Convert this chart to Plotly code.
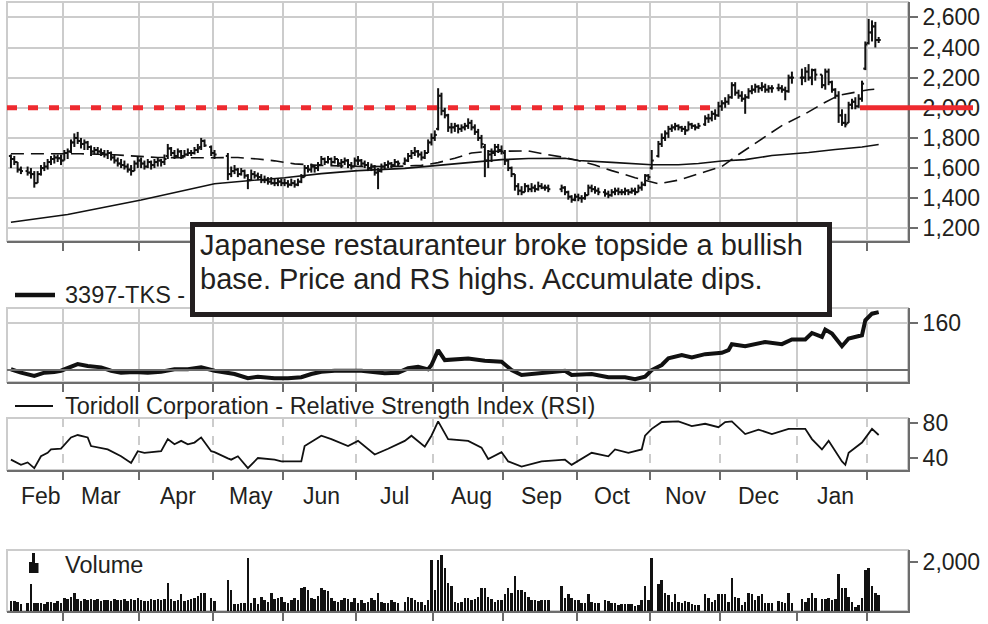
import numpy as np
import plotly.graph_objects as go

W, H = 988, 624
FONT = "Liberation Sans, Arial, sans-serif"
TXT = "#231f20"
GRID = "#cccccc"
AXC = "#6d6d6d"

# ---------------- data ----------------
holidays = ["2015-02-11", "2015-04-29", "2015-05-04", "2015-05-05", "2015-05-06",
            "2015-07-20", "2015-09-21", "2015-09-22", "2015-09-23", "2015-10-12",
            "2015-11-03", "2015-11-23", "2015-12-23", "2015-12-31", "2016-01-01",
            "2016-01-11"]
first_day, last_day = "2015-02-05", "2016-02-04"

opens = [
    1680, 1660, 1640, 1590, 1580, 1570, 1560, 1500, 1560, 1600, 1610, 1640, 1660, 1670, 1665, 1650,
    1700, 1710, 1770, 1800, 1780, 1760, 1770, 1740, 1710, 1720, 1710, 1700, 1690, 1700, 1670, 1650, 1630, 1620, 1610, 1590, 1580, 1630,
    1650, 1630, 1610, 1640, 1620, 1640, 1650, 1640, 1680, 1730, 1700, 1680, 1710, 1680, 1690, 1700, 1700, 1720, 1740, 1780, 1740,
    1700, 1680, 1560, 1580, 1590, 1560, 1580, 1550, 1520, 1560, 1550, 1540, 1520, 1520, 1510, 1500, 1500, 1510,
    1500, 1500, 1490, 1500, 1490, 1510, 1540, 1600, 1590, 1610, 1600, 1620, 1660, 1640, 1660, 1640, 1660, 1630, 1640, 1650, 1620, 1610,
    1650, 1650, 1630, 1620, 1600, 1610, 1570, 1580, 1610, 1620, 1630, 1620, 1640, 1630, 1650, 1680, 1700, 1710, 1690, 1670, 1700, 1770,
    1800, 1860, 2080, 1980, 1950, 1870, 1870, 1880, 1860, 1870, 1880, 1900, 1870, 1840, 1800, 1740, 1650, 1690, 1700, 1740, 1720,
    1700, 1650, 1600, 1560, 1480, 1450, 1440, 1480, 1460, 1470, 1460, 1480, 1470, 1470, 1460, 1470, 1440, 1410, 1390,
    1410, 1400, 1400, 1420, 1470, 1460, 1450, 1440, 1430, 1420, 1440, 1450, 1440, 1440, 1450, 1440, 1450, 1440, 1470, 1490, 1550,
    1600, 1680, 1760, 1800, 1830, 1860, 1870, 1880, 1870, 1860, 1850, 1890, 1880, 1870, 1890, 1930, 1930, 1960, 1950,
    2010, 2030, 2040, 2070, 2150, 2100, 2080, 2060, 2070, 2110, 2120, 2140, 2130, 2140, 2120, 2130, 2130, 2130, 2120, 2110, 2200,
    2200, 2200, 2240, 2200, 2250, 2220, 2150, 2240, 2170, 2120, 2080, 1950, 1900, 1900, 2020, 2040, 2010, 2060, 2260,
    2430, 2500, 2540, 2450]
highs = [
    1690, 1680, 1640, 1610, 1610, 1600, 1580, 1580, 1620, 1640, 1660, 1680, 1690, 1690, 1690, 1720,
    1730, 1790, 1830, 1840, 1800, 1790, 1780, 1750, 1740, 1740, 1730, 1720, 1720, 1710, 1690, 1670, 1660, 1650, 1630, 1620, 1650, 1680,
    1670, 1650, 1660, 1650, 1660, 1670, 1660, 1690, 1760, 1740, 1720, 1730, 1720, 1720, 1730, 1720, 1740, 1760, 1800, 1790, 1750,
    1720, 1700, 1610, 1620, 1600, 1600, 1590, 1560, 1590, 1580, 1570, 1560, 1550, 1540, 1540, 1530, 1530, 1530,
    1530, 1520, 1530, 1520, 1530, 1560, 1620, 1620, 1630, 1620, 1640, 1680, 1670, 1680, 1670, 1680, 1660, 1660, 1670, 1660, 1640, 1670,
    1680, 1660, 1650, 1640, 1630, 1620, 1600, 1630, 1640, 1650, 1640, 1660, 1650, 1670, 1700, 1720, 1740, 1720, 1710, 1720, 1790, 1830,
    1850, 2130, 2100, 2000, 1960, 1900, 1900, 1890, 1890, 1900, 1930, 1920, 1890, 1860, 1820, 1760, 1720, 1730, 1760, 1760, 1750,
    1720, 1660, 1610, 1560, 1500, 1480, 1500, 1490, 1500, 1490, 1510, 1500, 1490, 1490, 1490, 1480, 1450, 1420, 1430,
    1430, 1420, 1440, 1490, 1490, 1480, 1470, 1460, 1450, 1460, 1470, 1470, 1460, 1470, 1460, 1470, 1470, 1490, 1510, 1560, 1560,
    1720, 1780, 1830, 1850, 1880, 1890, 1900, 1890, 1880, 1880, 1910, 1900, 1890, 1900, 1950, 1960, 1980, 1990, 2040,
    2050, 2070, 2090, 2170, 2170, 2120, 2110, 2090, 2130, 2150, 2160, 2150, 2170, 2160, 2150, 2150, 2160, 2150, 2140, 2220, 2240,
    2260, 2270, 2290, 2260, 2260, 2220, 2260, 2260, 2180, 2130, 2110, 1990, 1960, 2040, 2060, 2070, 2090, 2180, 2440,
    2590, 2580, 2570, 2470]
lows = [
    1600, 1620, 1570, 1560, 1550, 1530, 1470, 1500, 1550, 1580, 1590, 1620, 1630, 1640, 1620, 1650,
    1660, 1700, 1740, 1760, 1730, 1720, 1720, 1680, 1690, 1690, 1680, 1670, 1660, 1650, 1630, 1610, 1600, 1590, 1570, 1550, 1580, 1600,
    1600, 1590, 1600, 1590, 1600, 1610, 1610, 1620, 1660, 1680, 1660, 1670, 1660, 1670, 1680, 1680, 1690, 1700, 1720, 1740, 1680,
    1660, 1520, 1540, 1560, 1540, 1550, 1530, 1460, 1520, 1530, 1520, 1500, 1500, 1490, 1490, 1480, 1480, 1480,
    1480, 1470, 1480, 1470, 1480, 1500, 1540, 1570, 1570, 1570, 1580, 1620, 1620, 1630, 1620, 1630, 1610, 1600, 1620, 1600, 1590, 1610,
    1620, 1610, 1600, 1580, 1580, 1550, 1460, 1570, 1590, 1600, 1600, 1610, 1610, 1620, 1640, 1660, 1680, 1670, 1650, 1660, 1700, 1750,
    1780, 1850, 1950, 1930, 1840, 1830, 1840, 1830, 1840, 1850, 1860, 1850, 1820, 1780, 1730, 1540, 1600, 1640, 1680, 1700, 1690,
    1620, 1580, 1540, 1450, 1420, 1420, 1440, 1440, 1440, 1440, 1450, 1460, 1450, 1440, 1440, 1420, 1390, 1370, 1380,
    1380, 1370, 1390, 1420, 1440, 1430, 1420, 1410, 1400, 1410, 1420, 1420, 1420, 1420, 1420, 1430, 1420, 1440, 1450, 1480, 1520,
    1590, 1670, 1740, 1780, 1800, 1840, 1850, 1850, 1840, 1820, 1850, 1860, 1850, 1860, 1880, 1900, 1910, 1920, 1940,
    1980, 2000, 2020, 2060, 2080, 2060, 2040, 1960, 2060, 2090, 2100, 2100, 2110, 2100, 2100, 2100, 2110, 2100, 2050, 2100, 2160,
    2150, 2170, 2180, 2150, 2180, 2130, 2120, 2150, 2100, 2060, 1900, 1880, 1870, 1900, 1990, 1990, 2000, 2040, 2250,
    2420, 2440, 2400, 2430]
closes = [
    1660, 1640, 1590, 1580, 1570, 1560, 1500, 1560, 1600, 1610, 1640, 1660, 1670, 1665, 1650, 1700,
    1710, 1770, 1800, 1780, 1760, 1770, 1740, 1710, 1720, 1710, 1700, 1690, 1700, 1670, 1650, 1630, 1620, 1610, 1590, 1580, 1630, 1650,
    1630, 1610, 1640, 1620, 1640, 1650, 1640, 1660, 1730, 1700, 1680, 1710, 1680, 1690, 1700, 1700, 1720, 1730, 1780, 1750, 1700,
    1690, 1560, 1580, 1590, 1560, 1580, 1550, 1520, 1560, 1550, 1540, 1520, 1520, 1510, 1500, 1500, 1510, 1500,
    1500, 1490, 1500, 1490, 1510, 1540, 1600, 1590, 1610, 1600, 1620, 1660, 1640, 1660, 1640, 1660, 1630, 1640, 1650, 1620, 1610, 1650,
    1650, 1630, 1620, 1600, 1610, 1570, 1580, 1610, 1620, 1630, 1620, 1640, 1630, 1650, 1680, 1700, 1710, 1690, 1670, 1700, 1770, 1800,
    1820, 2080, 1980, 1950, 1870, 1870, 1880, 1860, 1870, 1880, 1900, 1870, 1840, 1800, 1760, 1650, 1690, 1700, 1740, 1720, 1710,
    1650, 1600, 1560, 1480, 1450, 1440, 1480, 1460, 1470, 1460, 1480, 1470, 1470, 1460, 1470, 1440, 1410, 1390, 1410,
    1400, 1400, 1420, 1470, 1460, 1450, 1440, 1430, 1420, 1440, 1450, 1440, 1440, 1450, 1440, 1450, 1440, 1470, 1490, 1550, 1540,
    1650, 1760, 1800, 1830, 1860, 1870, 1880, 1870, 1860, 1850, 1890, 1880, 1870, 1880, 1930, 1930, 1960, 1950, 2010,
    2030, 2040, 2070, 2150, 2100, 2080, 2060, 2070, 2110, 2120, 2140, 2130, 2140, 2120, 2130, 2130, 2130, 2120, 2110, 2200, 2200,
    2200, 2240, 2200, 2250, 2220, 2150, 2240, 2170, 2120, 2080, 1950, 1900, 1890, 2020, 2040, 2010, 2060, 2160, 2420,
    2500, 2540, 2450, 2450]
volumes = [
    408, 408, 380, 286, 313, 1088, 313, 313, 340, 272, 380, 380, 313, 408, 340, 517,
    476, 585, 748, 476, 420, 480, 450, 470, 430, 480, 420, 450, 440, 400, 480, 430, 450, 470, 400, 480, 430, 520,
    450, 420, 400, 480, 430, 500, 450, 480, 1156, 500, 420, 450, 680, 400, 450, 480, 520, 600, 748, 720, 540,
    400, 1238, 857, 300, 300, 320, 340, 2149, 313, 517, 272, 585, 449, 380, 720, 476, 517, 585,
    380, 313, 449, 517, 449, 925, 990, 860, 545, 480, 600, 925, 860, 830, 545, 408, 380, 449, 545, 476, 380, 517,
    340, 449, 313, 380, 517, 449, 748, 380, 340, 313, 449, 380, 313, 380, 585, 517, 449, 380, 380, 245, 450, 2054,
    857, 2080, 2285, 1741, 1156, 1000, 380, 340, 353, 517, 517, 449, 476, 585, 925, 925, 585, 476, 380, 449, 449,
    694, 925, 720, 1428, 857, 857, 789, 585, 449, 449, 420, 449, 449, 449, 1020, 517, 694, 517, 449,
    449, 313, 313, 694, 380, 340, 313, 449, 408, 313, 340, 245, 286, 286, 286, 272, 204, 245, 449, 1020, 449,
    2149, 1088, 1265, 720, 653, 380, 694, 380, 340, 408, 380, 272, 245, 245, 680, 517, 380, 449, 680,
    680, 680, 380, 1333, 585, 517, 245, 380, 748, 694, 449, 612, 694, 313, 313, 313, 408, 380, 340, 748, 313,
    503, 380, 517, 748, 517, 476, 476, 517, 449, 476, 1496, 925, 925, 585, 380, 177, 245, 517, 1673,
    1741, 1020, 748, 650]

ma200_dates = ["2015-02-05", "2015-03-02", "2015-04-01", "2015-05-01", "2015-05-15", "2015-06-01",
               "2015-06-16", "2015-07-01", "2015-07-21", "2015-07-31", "2015-08-17", "2015-08-31",
               "2015-09-10", "2015-09-25", "2015-10-01", "2015-10-15", "2015-10-26", "2015-11-02",
               "2015-11-12", "2015-11-20", "2015-12-01", "2015-12-10", "2015-12-22", "2016-01-06",
               "2016-01-18", "2016-01-28", "2016-02-04"]
ma200_vals = [1240, 1292, 1388, 1496, 1516, 1536, 1563, 1583, 1598, 1616, 1636, 1656,
              1663, 1665, 1650, 1638, 1630, 1622, 1622, 1630, 1647, 1656, 1683, 1703,
              1723, 1740, 1756]

ma50_dates = ["2015-02-05", "2015-02-20", "2015-03-06", "2015-03-20", "2015-03-30", "2015-04-08",
              "2015-04-24", "2015-05-12", "2015-05-20", "2015-05-27", "2015-06-04", "2015-06-15",
              "2015-06-30", "2015-07-15", "2015-07-28", "2015-08-04", "2015-08-11", "2015-08-18",
              "2015-08-25", "2015-09-04", "2015-09-10", "2015-09-16", "2015-09-25", "2015-10-01",
              "2015-10-08", "2015-10-15", "2015-10-26", "2015-11-04", "2015-11-12", "2015-11-24",
              "2015-12-01", "2015-12-08", "2015-12-17", "2015-12-25", "2016-01-05", "2016-01-13",
              "2016-01-19", "2016-02-01", "2016-02-04"]
ma50_vals = [1695, 1695, 1695, 1688, 1680, 1670, 1668, 1670, 1660, 1648, 1628, 1618,
             1612, 1610, 1618, 1636, 1665, 1700, 1711, 1716, 1714, 1696, 1670, 1650,
             1620, 1583, 1536, 1496, 1520, 1575, 1610, 1690, 1794, 1882, 1960, 2037,
             2082, 2120, 2125]

rs_dates = ["2015-02-05", "2015-02-10", "2015-02-16", "2015-02-19", "2015-02-24", "2015-02-26",
            "2015-03-05", "2015-03-10", "2015-03-16", "2015-03-19", "2015-03-24", "2015-03-30",
            "2015-04-03", "2015-04-09", "2015-04-15", "2015-04-21", "2015-04-27", "2015-05-01",
            "2015-05-11", "2015-05-15", "2015-05-20", "2015-05-27", "2015-06-02", "2015-06-08",
            "2015-06-11", "2015-06-16", "2015-06-22", "2015-06-26", "2015-07-02", "2015-07-13",
            "2015-07-17", "2015-07-22", "2015-07-27", "2015-07-30", "2015-07-31", "2015-08-04",
            "2015-08-06", "2015-08-17", "2015-08-24", "2015-08-31", "2015-09-03", "2015-09-08",
            "2015-09-17", "2015-09-25", "2015-09-29", "2015-10-07", "2015-10-14", "2015-10-21",
            "2015-10-26", "2015-10-29", "2015-11-02", "2015-11-05", "2015-11-09", "2015-11-13",
            "2015-11-18", "2015-11-24", "2015-12-01", "2015-12-03", "2015-12-04", "2015-12-10",
            "2015-12-18", "2015-12-25", "2015-12-30", "2016-01-05", "2016-01-07", "2016-01-12",
            "2016-01-13", "2016-01-15", "2016-01-20", "2016-01-22", "2016-01-28", "2016-01-29",
            "2016-02-02", "2016-02-04"]
rs_vals = [101, 96.6, 92.3, 96.6, 97.4, 99.1, 107.7, 105.1, 103.4, 99.1, 96.6, 97.4,
           96.6, 97.8, 100.9, 100.9, 103.4, 99.1, 94.9, 89.4, 91.4, 89.4, 89.4, 90.7,
           94.9, 97.8, 99.1, 99.1, 99.1, 95.8, 96.6, 102.2, 104.2, 100.9, 106.4, 125.5,
           112.8, 114.9, 111.9, 110.6, 100, 93.6, 96.6, 99.1, 93.6, 94.9, 90.7, 90.7,
           88.1, 91.4, 100, 106.4, 114.9, 119.1, 116.2, 120.4, 122.1, 125.5, 133.2, 130.6,
           136.1, 133.2, 139.2, 139.2, 147.6, 142.5, 152, 146.9, 130.6, 140.5, 144.7, 163.8,
           172.4, 174.4]

rsi_dates = ["2015-02-05", "2015-02-10", "2015-02-12", "2015-02-16", "2015-02-18", "2015-02-20",
             "2015-02-23", "2015-02-26", "2015-03-03", "2015-03-05", "2015-03-10", "2015-03-11",
             "2015-03-18", "2015-03-24", "2015-03-27", "2015-03-31", "2015-04-02", "2015-04-09",
             "2015-04-13", "2015-04-15", "2015-04-17", "2015-04-21", "2015-04-23", "2015-04-27",
             "2015-04-30", "2015-05-01", "2015-05-07", "2015-05-08", "2015-05-12", "2015-05-15",
             "2015-05-20", "2015-05-27", "2015-05-29", "2015-06-04", "2015-06-08", "2015-06-09",
             "2015-06-16", "2015-06-19", "2015-06-26", "2015-07-01", "2015-07-08", "2015-07-14",
             "2015-07-21", "2015-07-23", "2015-07-29", "2015-07-31", "2015-08-04", "2015-08-07",
             "2015-08-17", "2015-08-21", "2015-08-25", "2015-08-31", "2015-09-02", "2015-09-08",
             "2015-09-16", "2015-09-25", "2015-09-29", "2015-10-07", "2015-10-14", "2015-10-16",
             "2015-10-22", "2015-10-28", "2015-10-29", "2015-11-02", "2015-11-05", "2015-11-12",
             "2015-11-18", "2015-11-24", "2015-11-30", "2015-12-02", "2015-12-04", "2015-12-10",
             "2015-12-16", "2015-12-22", "2015-12-29", "2016-01-05", "2016-01-07", "2016-01-12",
             "2016-01-14", "2016-01-20", "2016-01-21", "2016-01-22", "2016-01-28", "2016-02-02",
             "2016-02-04"]
rsi_vals = [38.5, 32.7, 35.4, 29, 42.3, 46.2, 50, 50.8, 63.5, 66.2, 63.5, 53.8,
            50, 42.3, 34.7, 48, 46.2, 48, 61.6, 55.8, 59.6, 55.8, 57.7, 63.5,
            48, 46.9, 40, 38.5, 42.3, 29, 40.4, 38.5, 36.5, 36.5, 36.5, 53.8,
            65.4, 61.6, 53.8, 59.6, 44.3, 50.8, 59.6, 65.4, 53.1, 65.4, 81.5, 61.6,
            59.6, 52, 39.3, 47, 36.5, 30.8, 36.5, 38.5, 32.7, 46.2, 42.3, 50,
            46.2, 50, 65.4, 73.1, 80.8, 81.5, 76.2, 78.8, 75, 80.8, 81.5, 67.3,
            72.3, 67.3, 73.1, 73.1, 61.6, 50, 59.6, 36.5, 32.7, 46.2, 57.7, 73.1,
            66.2]

month_starts = ["2015-03-01", "2015-04-01", "2015-05-01", "2015-06-01", "2015-07-01", "2015-08-01",
                "2015-09-01", "2015-10-01", "2015-11-01", "2015-12-01", "2016-01-01", "2016-02-01"]
month_labels = ["Feb", "Mar", "Apr", "May", "Jun", "Jul", "Aug", "Sep", "Oct", "Nov", "Dec", "Jan"]
month_label_dates = ["2015-02-18", "2015-03-16", "2015-04-16", "2015-05-18", "2015-06-16", "2015-07-16",
                     "2015-08-18", "2015-09-16", "2015-10-15", "2015-11-16", "2015-12-16", "2016-01-18"]

price_ticks = [1200, 1400, 1600, 1800, 2000, 2200, 2400, 2600]
rs_ticks = [160]
rsi_ticks = [40, 80]
vol_ticks = [2000]
breakout_level = 2000
breakout_end = "2015-11-26"
rs_base = 100

note_lines = ["Japanese restauranteur broke topside a bullish",
              "base. Price and RS highs. Accumulate dips."]
ma_titles = ["200 Day Moving Average", "50 Day Moving Average"]

# ---------------- x positions: weekday slots ----------------
ORIGIN = "2015-03-02"


def slot(d):
    return float(np.busday_count(ORIGIN, d)) + 0.5


def edge(d):
    return float(np.busday_count(ORIGIN, d))


all_days = np.arange(np.datetime64(first_day), np.datetime64(last_day) + 1)
trade_days = [str(d) for d in all_days if np.is_busday(d, holidays=holidays)]
assert len(trade_days) == len(opens) == len(highs) == len(lows) == len(closes) == len(volumes), \
    (len(trade_days), len(opens), len(highs), len(lows), len(closes), len(volumes))
assert len(rs_dates) == len(rs_vals) and len(rsi_dates) == len(rsi_vals)
assert len(ma50_dates) == len(ma50_vals) and len(ma200_dates) == len(ma200_vals)

xt = [slot(d) for d in trade_days]
PX_PER_SLOT = 801 / 240.0
XMIN = (7 - 66) / PX_PER_SLOT
XMAX = (908 - 66) / PX_PER_SLOT

# OHLC as line segments
ox, oy = [], []
TK = 0.62
for x, o, h, l, c in zip(xt, opens, highs, lows, closes):
    ox += [x, x, None, x - TK, x, None, x, x + TK, None]
    oy += [l, h, None, o, o, None, c, c, None]


def py(p):
    return 1 - p / H


def pxx(p):
    return p / W


XD = [pxx(7), pxx(908)]
D_PRICE = [py(241), py(2)]
D_RS = [py(382), py(308)]
D_RSI = [py(470), py(418)]
D_VOL = [py(611), py(550)]

fig = go.Figure()
# red breakout level (dashed), below the price bars
fig.add_trace(go.Scatter(x=[XMIN, slot(breakout_end)], y=[breakout_level, breakout_level], mode="lines",
                         line=dict(color="#ee2a2f", width=5, dash="10px,11px"), xaxis="x", yaxis="y",
                         hoverinfo="skip"))
fig.add_trace(go.Scatter(x=[slot(d) for d in ma200_dates], y=ma200_vals, mode="lines",
                         line=dict(color="#111111", width=1.6), xaxis="x", yaxis="y", hoverinfo="skip"))
fig.add_trace(go.Scatter(x=[slot(d) for d in ma50_dates], y=ma50_vals, mode="lines",
                         line=dict(color="#111111", width=1.6, dash="13px,7px"), xaxis="x", yaxis="y",
                         hoverinfo="skip"))
fig.add_trace(go.Scatter(x=ox, y=oy, mode="lines", line=dict(color="#111111", width=2),
                         xaxis="x", yaxis="y", connectgaps=False, hoverinfo="skip"))
fig.add_trace(go.Scatter(x=[slot(d) for d in rs_dates], y=rs_vals, mode="lines",
                         line=dict(color="#111111", width=4), xaxis="x2", yaxis="y2"))
fig.add_trace(go.Scatter(x=[slot(d) for d in rsi_dates], y=rsi_vals, mode="lines",
                         line=dict(color="#111111", width=1.8), xaxis="x3", yaxis="y3"))
fig.add_trace(go.Bar(x=xt, y=volumes, width=0.75, marker=dict(color="#111111", line=dict(width=0)),
                     xaxis="x4", yaxis="y4"))

tickv = [edge(d) for d in month_starts]


def xax(anchor, grid, dash="solid"):
    return dict(domain=XD, anchor=anchor, range=[XMIN, XMAX], tickmode="array", tickvals=tickv,
                showticklabels=False, ticks="outside", ticklen=8, tickwidth=2, tickcolor=AXC,
                showgrid=grid, gridcolor=GRID, gridwidth=2, griddash=dash, showline=True,
                linecolor=AXC, linewidth=2, zeroline=False, fixedrange=True, automargin=False)


def yax(anchor, dom, rng, vals, grid):
    return dict(domain=dom, anchor=anchor, side="right", range=rng, tickmode="array", tickvals=vals,
                ticktext=[f"{v:,}" for v in vals], ticks="outside", ticklen=8, tickwidth=2,
                tickcolor=AXC, showgrid=grid, gridcolor=GRID, gridwidth=2, showline=True,
                linecolor=AXC, linewidth=2, zeroline=False, automargin=False,
                tickfont=dict(family=FONT, size=23, color=TXT), fixedrange=True)


shapes = []
# panel frames (light top/left)
for top, bot in [(2, 241), (308, 382), (418, 470), (550, 611)]:
    shapes.append(dict(type="rect", xref="paper", yref="paper", x0=XD[0], x1=XD[1], y0=py(bot), y1=py(top),
                       line=dict(color=GRID, width=2), layer="below"))
# RS base line
shapes.append(dict(type="line", xref="x2", yref="y2", x0=XMIN, x1=XMAX, y0=rs_base, y1=rs_base,
                   line=dict(color=AXC, width=2)))
# solid red level marker crossing the price axis
shapes.append(dict(type="line", xref="paper", yref="y", x0=pxx(860), x1=pxx(973), y0=breakout_level,
                   y1=breakout_level, line=dict(color="#ee2a2f", width=5), layer="above"))
# legend symbols
shapes.append(dict(type="line", xref="paper", yref="paper", x0=pxx(15), x1=pxx(55), y0=py(295), y1=py(295),
                   line=dict(color="#111111", width=4.5)))
shapes.append(dict(type="line", xref="paper", yref="paper", x0=pxx(15), x1=pxx(53), y0=py(406), y1=py(406),
                   line=dict(color="#111111", width=2)))
for a, b, t in [(29, 32, 562), (32, 35, 553), (35, 38.5, 563)]:
    shapes.append(dict(type="rect", xref="paper", yref="paper", x0=pxx(a), x1=pxx(b), y0=py(573), y1=py(t),
                       fillcolor="#111111", line=dict(width=0)))
# comment box
shapes.append(dict(type="rect", xref="paper", yref="paper", x0=pxx(192.5), x1=pxx(829.5), y0=py(314.5),
                   y1=py(224.5), fillcolor="white", line=dict(color="#231f20", width=5), layer="above"))

ann = []
for lab, d in zip(month_labels, month_label_dates):
    ann.append(dict(text=lab, xref="x3", yref="paper", x=slot(d), y=py(496), showarrow=False,
                    xanchor="center", yanchor="middle", font=dict(family=FONT, size=23, color=TXT)))
ann.append(dict(text="3397-TKS -", xref="paper", yref="paper", x=pxx(63), y=py(295), showarrow=False,
                xanchor="left", yanchor="middle", font=dict(family=FONT, size=23.5, color=TXT)))
ann.append(dict(text="Toridoll Corporation - Relative Strength Index (RSI)", xref="paper", yref="paper",
                x=pxx(63), y=py(406), showarrow=False, xanchor="left", yanchor="middle",
                font=dict(family=FONT, size=23.5, color=TXT)))
ann.append(dict(text="Volume", xref="paper", yref="paper", x=pxx(63), y=py(565), showarrow=False,
                xanchor="left", yanchor="middle", font=dict(family=FONT, size=23.5, color=TXT)))
ann.append(dict(text=note_lines[0], xref="paper", yref="paper", x=pxx(198), y=py(245), showarrow=False,
                xanchor="left", yanchor="middle", font=dict(family=FONT, size=29, color=TXT)))
ann.append(dict(text=note_lines[1], xref="paper", yref="paper", x=pxx(198), y=py(279), showarrow=False,
                xanchor="left", yanchor="middle", font=dict(family=FONT, size=29, color=TXT)))
# moving-average titles: in the reference only their descenders reach into the page
for t, xs in zip(ma_titles, [156, 438]):
    ann.append(dict(text=t, xref="paper", yref="paper", x=pxx(xs), y=py(2.2), showarrow=False,
                    xanchor="left", yanchor="bottom", font=dict(family=FONT, size=20, color=TXT)))

fig.update_layout(
    width=W, height=H, margin=dict(l=0, r=0, t=0, b=0, pad=0, autoexpand=False), autosize=False,
    paper_bgcolor="white", plot_bgcolor="white", showlegend=False,
    font=dict(family=FONT, color=TXT),
    xaxis=xax("y", True), xaxis2=xax("y2", True), xaxis3=xax("y3", True, "dash"), xaxis4=xax("y4", False),
    yaxis=yax("x", D_PRICE, [1116, 2702], price_ticks, True),
    yaxis2=yax("x2", D_RS, [84.6, 179.7], rs_ticks, True),
    yaxis3=yax("x3", D_RSI, [26.9, 85.3], rsi_ticks, False),
    yaxis4=yax("x4", D_VOL, [0, 2475], vol_ticks, False),
    shapes=shapes, annotations=ann, bargap=0,
)

fig.write_html("out.html", config={"displayModeBar": False, "staticPlot": True},
               post_script="document.body.style.margin='0';document.body.style.overflow='hidden';")
